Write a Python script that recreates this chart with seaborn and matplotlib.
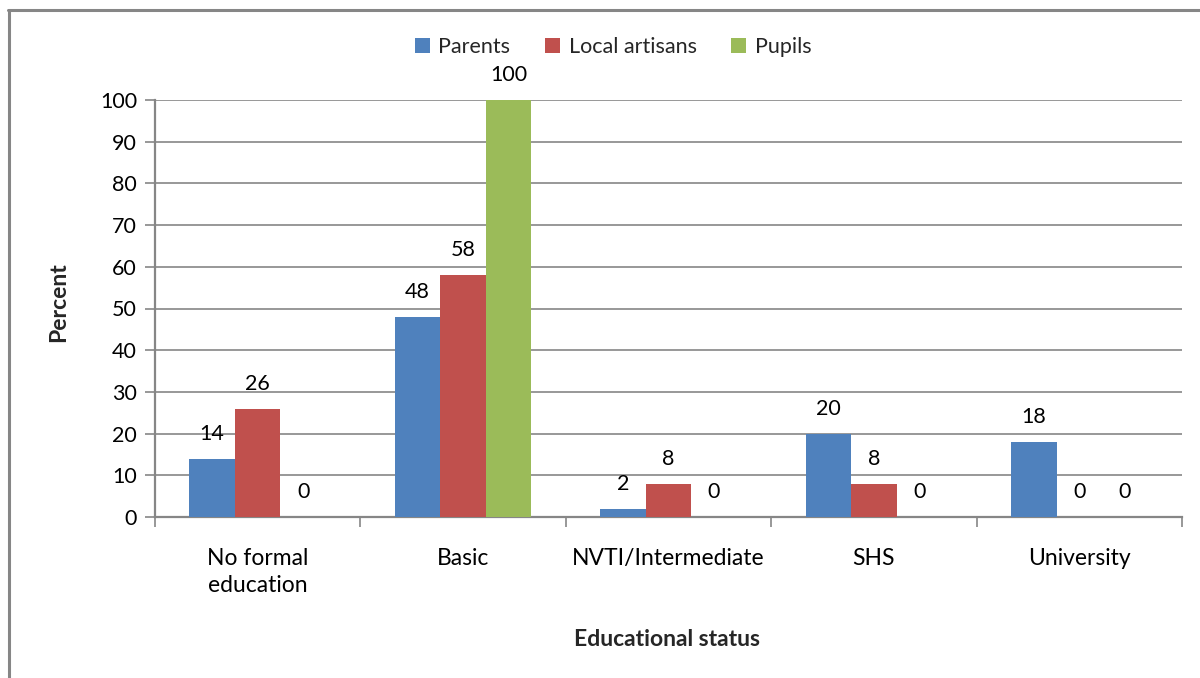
import matplotlib
matplotlib.use("Agg")
import matplotlib.pyplot as plt
from matplotlib.patches import Patch
from matplotlib.lines import Line2D
import seaborn as sns
import pandas as pd

categories = ["No formal\neducation", "Basic", "NVTI/Intermediate", "SHS", "University"]
groups = ["Parents", "Local artisans", "Pupils"]
parents = [14, 48, 2, 20, 18]
artisans = [26, 58, 8, 8, 0]
pupils = [0, 100, 0, 0, 0]
colors = ["#4F81BD", "#C0504D", "#9BBB59"]

rows = []
for g, vals in zip(groups, [parents, artisans, pupils]):
    for c, v in zip(categories, vals):
        rows.append({"Educational status": c, "Group": g, "Percent": v})
df = pd.DataFrame(rows)

sns.set_theme(style="white")
plt.rcParams["font.family"] = ["Lato", "DejaVu Sans"]

W, H = 1200, 678
AX_L, AX_R, AX_T, AX_B = 155, 1182, 100, 517

fig = plt.figure(figsize=(12, 6.78), dpi=100)
ax = fig.add_axes([AX_L / W, 1 - AX_B / H, (AX_R - AX_L) / W, (AX_B - AX_T) / H])

sns.barplot(data=df, x="Educational status", y="Percent", hue="Group",
            order=categories, hue_order=groups, palette=colors,
            width=0.665, gap=0, saturation=1, errorbar=None,
            edgecolor="none", linewidth=0, legend=False, ax=ax, zorder=3)

grid_c = "#868686"
ax.set_ylim(0, 100)
ax.set_xlim(-0.5, len(categories) - 0.5)
ax.set_yticks(range(0, 101, 10))
ax.yaxis.grid(True, color=grid_c, linewidth=1.2, zorder=0)
ax.set_axisbelow(True)
for s in ["top", "right"]:
    ax.spines[s].set_visible(False)
for s in ["left", "bottom"]:
    ax.spines[s].set_color(grid_c)
    ax.spines[s].set_linewidth(1.6)

ax.tick_params(axis="y", which="major", length=7, width=1.2, color=grid_c,
               direction="out", left=True, labelsize=15.5, pad=6, labelcolor="black")
ax.set_xticks([i - 0.5 for i in range(len(categories) + 1)], minor=True)
ax.tick_params(axis="x", which="minor", length=7, width=1.2, color=grid_c,
               direction="out", bottom=True)
ax.tick_params(axis="x", which="major", length=0, labelsize=16.5, pad=22,
               labelcolor="black")
for t in ax.get_xticklabels():
    t.set_verticalalignment("top")
    t.set_linespacing(1.4)

# Value labels above each bar
for cont in ax.containers:
    for bar in cont:
        h = bar.get_height()
        ax.annotate(f"{h:g}", (bar.get_x() + bar.get_width() / 2, h),
                    xytext=(0, 18), textcoords="offset points",
                    ha="center", va="center", fontsize=15.5, color="black",
                    annotation_clip=False, zorder=5)

ax.set_xlabel("Educational status", fontsize=16.5, fontweight="bold", labelpad=0)
ax.xaxis.set_label_coords((667.5 - AX_L) / (AX_R - AX_L),
                          -(629 - AX_B) / (AX_B - AX_T))
ax.set_ylabel("Percent", fontsize=16.5, fontweight="bold")
ax.yaxis.set_label_coords(-(AX_L - 69) / (AX_R - AX_L), (AX_B - 302) / (AX_B - AX_T))

handles = [Patch(facecolor=c, edgecolor="none") for c in colors]
fig.legend(handles, groups, loc="center", bbox_to_anchor=(613 / W, 1 - 47 / H),
           ncol=3, frameon=False, fontsize=15.5, handlelength=0.7, handleheight=0.7,
           handletextpad=0.4, columnspacing=1.6)

# Outer chart border
fig.add_artist(Line2D([9 / W, 9 / W], [0, 1 - 10 / H], color=grid_c,
                      linewidth=2.2, transform=fig.transFigure))
fig.add_artist(Line2D([8 / W, 1], [1 - 10 / H, 1 - 10 / H], color=grid_c,
                      linewidth=2.2, transform=fig.transFigure))

fig.savefig("out.png", dpi=100)
